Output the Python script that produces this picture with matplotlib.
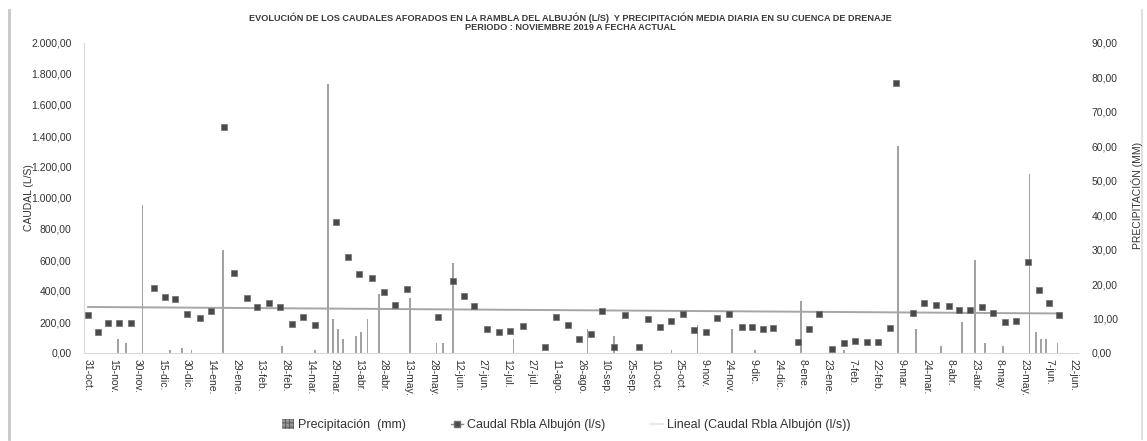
import numpy as np
import matplotlib
matplotlib.use('Agg')
import matplotlib.pyplot as plt
import matplotlib.dates as mdates
from matplotlib.patches import Patch
from matplotlib.lines import Line2D
from matplotlib.ticker import FuncFormatter

plt.rcParams['font.family'] = ['Liberation Sans', 'DejaVu Sans']
plt.rcParams['hatch.color'] = '#4a4a4a'
plt.rcParams['hatch.linewidth'] = 0.7

# ---------------- data ----------------
caudal_dates = [
    "2019-10-31", "2019-11-06", "2019-11-12", "2019-11-19", "2019-11-26",
    "2019-12-10", "2019-12-17", "2019-12-23", "2019-12-30", "2020-01-07",
    "2020-01-14", "2020-01-22", "2020-01-28", "2020-02-05", "2020-02-11",
    "2020-02-18", "2020-02-25", "2020-03-03", "2020-03-10", "2020-03-17",
    "2020-03-30", "2020-04-06", "2020-04-13", "2020-04-21", "2020-04-28",
    "2020-05-05", "2020-05-12", "2020-05-31", "2020-06-09", "2020-06-16",
    "2020-06-22", "2020-06-30", "2020-07-07", "2020-07-14", "2020-07-22",
    "2020-08-04", "2020-08-11", "2020-08-18", "2020-08-25", "2020-09-01",
    "2020-09-08", "2020-09-15", "2020-09-22", "2020-09-30", "2020-10-06",
    "2020-10-13", "2020-10-20", "2020-10-27", "2020-11-03", "2020-11-10",
    "2020-11-17", "2020-11-24", "2020-12-02", "2020-12-08", "2020-12-15",
    "2020-12-21", "2021-01-05", "2021-01-12", "2021-01-18", "2021-01-26",
    "2021-02-02", "2021-02-09", "2021-02-16", "2021-02-23", "2021-03-02",
    "2021-03-06", "2021-03-16", "2021-03-23", "2021-03-30", "2021-04-07",
    "2021-04-13", "2021-04-20", "2021-04-27", "2021-05-04", "2021-05-11",
    "2021-05-18", "2021-05-25", "2021-06-01", "2021-06-07", "2021-06-13",
]
caudal_values = [
    245, 135, 193, 193, 193,
    419, 361, 348, 252, 226,
    271, 1458, 516, 355, 297,
    322, 297, 187, 232, 181,
    845, 619, 510, 484, 394,
    310, 410, 235, 465, 368,
    303, 155, 135, 142, 174,
    40, 232, 181, 90, 123,
    271, 40, 245, 40, 219,
    168, 206, 252, 148, 135,
    226, 252, 168, 168, 155,
    161, 71, 155, 252, 26,
    65, 77, 71, 71, 161,
    1740, 258, 323, 310, 303,
    277, 277, 297, 258, 200,
    206, 587, 406, 322, 245,
]

# linear trend line of the caudal series, as drawn in the picture (start, end)
trend_values = [297, 255]

precip_dates = [
    "2019-11-18", "2019-11-23", "2019-12-03", "2019-12-20", "2019-12-27",
    "2020-01-02", "2020-01-21", "2020-02-26", "2020-03-17", "2020-03-25",
    "2020-03-28", "2020-03-31", "2020-04-03", "2020-04-11", "2020-04-14",
    "2020-04-18", "2020-04-25", "2020-05-14", "2020-05-30", "2020-06-03",
    "2020-06-09", "2020-07-16", "2020-08-30", "2020-09-15", "2020-10-20",
    "2020-11-05", "2020-11-26", "2020-12-10", "2021-01-07", "2021-02-02",
    "2021-03-07", "2021-03-18", "2021-04-02", "2021-04-15", "2021-04-23",
    "2021-04-29", "2021-05-10", "2021-05-26", "2021-05-30", "2021-06-02",
    "2021-06-05", "2021-06-12",
]
precip_values = [
    4, 3, 43, 1, 1.5,
    1, 30, 2, 1, 78,
    10, 7, 4, 5, 6,
    10, 17, 16, 3, 3,
    26, 4, 7, 5, 1,
    8, 7, 1, 15, 1,
    60, 7, 2, 9, 27,
    3, 2, 52, 6, 4,
    4, 3,
]

tick_labels = [
    "31-oct.", "15-nov.", "30-nov.", "15-dic.", "30-dic.", "14-ene.", "29-ene.",
    "13-feb.", "28-feb.", "14-mar.", "29-mar.", "13-abr.", "28-abr.", "13-may.",
    "28-may.", "12-jun.", "27-jun.", "12-jul.", "27-jul.", "11-ago.", "26-ago.",
    "10-sep.", "25-sep.", "10-oct.", "25-oct.", "9-nov.", "24-nov.", "9-dic.",
    "24-dic.", "8-ene.", "23-ene.", "7-feb.", "22-feb.", "9-mar.", "24-mar.",
    "8-abr.", "23-abr.", "8-may.", "23-may.", "7-jun.", "22-jun.",
]

title_line1 = ("EVOLUCIÓN DE LOS CAUDALES AFORADOS EN LA RAMBLA DEL ALBUJÓN (L/S)  "
               "Y PRECIPITACIÓN MEDIA DIARIA EN SU CUENCA DE DRENAJE")
title_line2 = "PERIODO : NOVIEMBRE 2019 A FECHA ACTUAL"

# ---------------- figure ----------------
W, H = 1147, 441
fig = plt.figure(figsize=(W / 100, H / 100), dpi=100)
fig.patch.set_facecolor('white')

ax = fig.add_axes([84 / W, 88 / H, 994 / W, 310 / H])
ax2 = ax.twinx()
ax.set_zorder(3)
ax2.set_zorder(1)
ax.patch.set_visible(False)

cd = mdates.datestr2num(caudal_dates)
pd_ = mdates.datestr2num(precip_dates)
start = mdates.datestr2num("2019-10-31")
end = mdates.datestr2num("2021-06-22")

# precipitation bars (secondary axis)
ax2.bar(pd_, precip_values, width=1.0, color='#a2a2a2', edgecolor='none')

# linear trend
ax.plot([cd[0], cd[-1]], trend_values, color='#a6a6a6', lw=1.4, zorder=1)

# caudal series (markers; connecting line is practically invisible in the picture)
ax.plot(cd, caudal_values, linestyle='none',
        marker='s', ms=4.6, mfc='#4a4a4a', mec='#707070', mew=0.5, zorder=3)

# axes
ax.set_xlim(start - 2.5, end + 2.5)
ax.set_ylim(0, 2000)
ax2.set_ylim(0, 90)

ticks = start + 15 * np.arange(len(tick_labels))
ax.set_xticks(ticks)
ax.set_xticklabels(tick_labels, rotation=-90, fontsize=7.5, color='#333333')
ax.tick_params(axis='x', length=0, pad=4)

def es_fmt(v, pos=None):
    s = f"{v:,.2f}"
    return s.replace(',', 'X').replace('.', ',').replace('X', '.')

ax.set_yticks(np.arange(0, 2001, 200))
ax.yaxis.set_major_formatter(FuncFormatter(es_fmt))
ax.tick_params(axis='y', length=0, pad=9, labelsize=7.5, labelcolor='#333333')
ax2.set_yticks(np.arange(0, 91, 10))
ax2.yaxis.set_major_formatter(FuncFormatter(es_fmt))
ax2.tick_params(axis='y', length=0, pad=10, labelsize=7.5, labelcolor='#333333')

for s in ['top', 'right']:
    ax.spines[s].set_visible(False)
for s in ['top', 'right', 'left', 'bottom']:
    ax2.spines[s].set_visible(False)
ax.spines['left'].set_color('#dadada')
ax.spines['bottom'].set_color('#dadada')

# axis titles
fig.text(29 / W, 1 - 198 / H, 'CAUDAL (L/S)', rotation=90, ha='center', va='center',
         fontsize=7.5, color='#333333')
fig.text(1137 / W, 1 - 195 / H, 'PRECIPITACIÓN (MM)', rotation=90, ha='center', va='center',
         fontsize=7.5, color='#333333')

# title
fig.text(570 / W, 1 - 18 / H, title_line1, ha='center', va='center', fontsize=6.6,
         fontweight='bold', color='#3a3a3a')
fig.text(570 / W, 1 - 28 / H, title_line2, ha='center', va='center', fontsize=6.6,
         fontweight='bold', color='#3a3a3a')

# legend
handles = [
    Patch(facecolor='#9a9a9a', edgecolor='#5a5a5a', hatch='++++', lw=0),
    Line2D([0], [0], color='#888888', lw=1, marker='s', ms=4, mfc='#4a4a4a', mec='#707070'),
    Line2D([0], [0], color='#e4e4e4', lw=1.2),
]
labels = ['Precipitación  (mm)', 'Caudal Rbla Albujón (l/s)', 'Lineal (Caudal Rbla Albujón (l/s))']
leg = fig.legend(handles, labels, ncol=3, loc='center', bbox_to_anchor=(566 / W, 1 - 425 / H),
                 frameon=False, fontsize=9, handlelength=1.0, handleheight=0.8,
                 handletextpad=0.3, columnspacing=3.6)
for t in leg.get_texts():
    t.set_color('#333333')

# chart border (left / right edges)
fig.add_artist(Line2D([9 / W, 9 / W], [2 / H, 1 - 10 / H], transform=fig.transFigure,
                      color='#c8c8c8', lw=2))
fig.add_artist(Line2D([1142 / W, 1142 / W], [2 / H, 1 - 10 / H], transform=fig.transFigure,
                      color='#e0e0e0', lw=1.5))

fig.savefig('out.png', dpi=100)
